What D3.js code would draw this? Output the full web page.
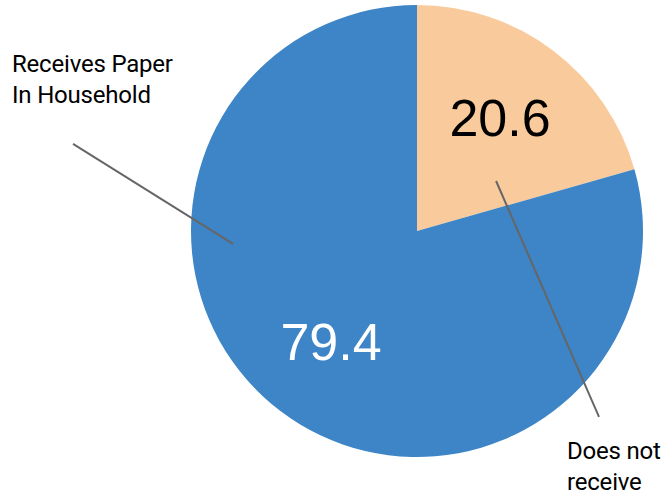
<!DOCTYPE html>
<html>
<head>
<meta charset="utf-8">
<script src="https://cdn.jsdelivr.net/npm/d3@7"></script>
<style>
  html, body { margin: 0; padding: 0; background: #fff; }
  svg { display: block; }
</style>
</head>
<body>
<svg id="chart" width="662" height="495"></svg>
<script>
// Share of households receiving the paper
const categories = ["Does not receive", "Receives Paper In Household"];
const values = [20.6, 79.4];
const valueLabels = ["20.6", "79.4"];
const labelLines = [["Does not", "receive"], ["Receives Paper", "In Household"]];
const colors = ["#f9cb9c", "#3d85c6"];
const valueTextColors = ["#000000", "#ffffff"];

const width = 662, height = 495;
const cx = 417, cy = 231, radius = 226;

const svg = d3.select("#chart");
const g = svg.append("g").attr("transform", `translate(${cx},${cy})`);

const pie = d3.pie().sort(null).value(d => d.value);
const arcs = pie(categories.map((c, i) => ({ name: c, value: values[i], i })));
const arc = d3.arc().innerRadius(0).outerRadius(radius);

g.selectAll("path.slice")
  .data(arcs)
  .join("path")
  .attr("class", "slice")
  .attr("d", arc)
  .attr("fill", d => colors[d.data.i]);

// polar helper: angle in degrees clockwise from 12 o'clock, r as a fraction of radius
const polar = (deg, r) => {
  const a = deg * Math.PI / 180;
  return [Math.sin(a) * r * radius, -Math.cos(a) * r * radius];
};

// value labels inside the slices (anchored at the text baseline centre)
const valuePos = [polar(41.2, 0.558), polar(213.7, 0.686)];
g.selectAll("text.value")
  .data(arcs)
  .join("text")
  .attr("class", "value")
  .attr("x", d => valuePos[d.data.i][0])
  .attr("y", d => valuePos[d.data.i][1])
  .attr("text-anchor", "middle")
  .attr("font-family", "'Liberation Sans', Arial, sans-serif")
  .attr("font-size", 52)
  .attr("fill", d => valueTextColors[d.data.i])
  .text(d => valueLabels[d.data.i]);

// leader lines from slices to their category labels
const leaders = [
  [polar(57.7, 0.414), polar(135.6, 1.151)],
  [polar(266, 0.816), polar(284.2, 1.57)]
];
g.selectAll("line.leader")
  .data(arcs)
  .join("line")
  .attr("class", "leader")
  .attr("x1", d => leaders[d.data.i][0][0])
  .attr("y1", d => leaders[d.data.i][0][1])
  .attr("x2", d => leaders[d.data.i][1][0])
  .attr("y2", d => leaders[d.data.i][1][1])
  .attr("stroke", "#666666")
  .attr("stroke-width", 2);

// category labels
const labelAnchor = [[567, 459], [12, 72]];
const lineHeight = 31;
svg.selectAll("text.cat")
  .data(arcs)
  .join("text")
  .attr("class", "cat")
  .attr("font-family", "Roboto, 'Noto Sans', sans-serif")
  .attr("font-size", 24)
  .attr("letter-spacing", -0.2)
  .attr("fill", "#000")
  .each(function(d) {
    const t = d3.select(this);
    const [x, y] = labelAnchor[d.data.i];
    labelLines[d.data.i].forEach((ln, k) => {
      t.append("tspan").attr("x", x).attr("y", y + k * lineHeight).text(ln);
    });
  });
</script>
</body>
</html>
